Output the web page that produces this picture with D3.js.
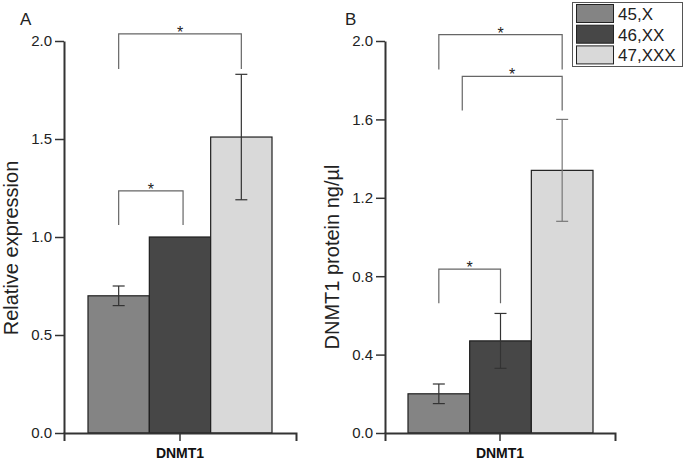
<!DOCTYPE html>
<html><head><meta charset="utf-8">
<script src="https://cdn.jsdelivr.net/npm/d3@7"></script>
<style>body{margin:0;background:#fff}svg{display:block;font-family:Arial,"Liberation Sans",sans-serif}</style>
</head><body><svg id="c" width="685" height="461"></svg>
<script>
const groups = ["45,X", "46,XX", "47,XXX"];
const colors = ["#848484", "#474747", "#d9d9d9"];
const category = "DNMT1";
const relExpr = [0.70, 1.00, 1.51];
const relErr = [0.05, 0, 0.32];
const protein = [0.20, 0.47, 1.34];
const proteinErr = [0.05, 0.14, 0.26];
const ticksA = [0.0, 0.5, 1.0, 1.5, 2.0];
const ticksB = [0.0, 0.4, 0.8, 1.2, 1.6, 2.0];
// brackets: [fromGroupPos, toGroupPos, lineLevel, legEndLevel]
const bracketsA = [[0, 2, 2.036, 1.857], [0, 1.05, 1.235, 1.061]];
const bracketsB = [[0, 2, 2.033, 1.855], [0.38, 2, 1.82, 1.646], [0, 1, 0.836, 0.662]];

const svg = d3.select("#c");
const plotTop = 41, plotBottom = 433;

function panel(o) {
  const g = svg.append("g");
  const y = d3.scaleLinear().domain([0, 2]).range([plotBottom, plotTop]);
  const xAxisScale = d3.scaleBand().domain([category]).range([o.axisL, o.axisR]);
  const xb = d3.scaleBand().domain(groups).range([o.barL, o.barR]);
  const pos = d3.scaleLinear().domain([0, 2]).range([xb(groups[0]) + xb.bandwidth()/2, xb(groups[2]) + xb.bandwidth()/2]);

  // bars
  g.selectAll("rect.bar").data(o.values).join("rect")
    .attr("x", (d, i) => xb(groups[i])).attr("width", xb.bandwidth())
    .attr("y", d => y(d)).attr("height", d => y(0) - y(d))
    .attr("fill", (d, i) => colors[i]).attr("stroke", "#1e1e1e").attr("stroke-width", 1.2);

  // error bars
  o.values.forEach((v, i) => {
    const e = o.errs[i]; if (!e) return;
    const cx = xb(groups[i]) + xb.bandwidth()/2;
    const col = i === 2 && o.lightErr ? "#777" : "#333";
    g.append("line").attr("x1", cx).attr("x2", cx).attr("y1", y(v + e)).attr("y2", y(v - e)).attr("stroke", col).attr("stroke-width", 1.2);
    [v + e, v - e].forEach(t => g.append("line").attr("x1", cx - 6).attr("x2", cx + 6).attr("y1", y(t)).attr("y2", y(t)).attr("stroke", col).attr("stroke-width", 1.2));
  });

  // brackets
  o.brackets.forEach(b => {
    const x1 = pos(b[0]), x2 = pos(b[1]);
    g.append("path").attr("d", `M${x1},${y(b[3])}V${y(b[2])}H${x2}V${y(b[3])}`)
      .attr("fill", "none").attr("stroke", "#666").attr("stroke-width", 1.2);
    g.append("text").attr("x", (x1 + x2)/2).attr("y", y(b[2]) + 4).attr("text-anchor", "middle")
      .attr("font-size", 16).attr("fill", "#222").text("*");
  });

  // axes
  const ya = g.append("g").attr("transform", `translate(${o.axisL},0)`)
    .call(d3.axisLeft(y).tickValues(o.ticks).tickFormat(d3.format(".1f")).tickSize(9).tickSizeOuter(0).tickPadding(3));
  ya.select(".domain").attr("stroke", "#333").attr("stroke-width", 2);
  ya.selectAll(".tick line").attr("stroke", "#333").attr("stroke-width", 1.5);
  ya.selectAll("text").attr("font-size", 15).attr("fill", "#222").attr("font-family", "Arial, 'Liberation Sans', sans-serif");

  const xa = g.append("g").attr("transform", `translate(0,${plotBottom})`)
    .call(d3.axisBottom(xAxisScale).tickSize(8).tickSizeOuter(8).tickPadding(5));
  xa.select(".domain").attr("stroke", "#333").attr("stroke-width", 2);
  xa.selectAll(".tick line").attr("stroke", "#333").attr("stroke-width", 1.5);
  xa.selectAll("text").attr("font-size", 14).attr("font-weight", "bold").attr("fill", "#111")
    .attr("font-family", "Arial, 'Liberation Sans', sans-serif").attr("dy", "0.85em");

  // y label
  g.append("text").attr("transform", `translate(${o.ylabX},${o.ylabY}) rotate(-90)`)
    .attr("text-anchor", "middle").attr("font-size", 20).attr("fill", "#222").text(o.ylabel);
  // panel letter
  g.append("text").attr("x", o.letterX).attr("y", 25).attr("font-size", 17).attr("fill", "#222").text(o.letter);
}

panel({values: relExpr, errs: relErr, ticks: ticksA, brackets: bracketsA, axisL: 64, axisR: 296, barL: 88, barR: 272,
  ylabel: "Relative expression", ylabX: 18, ylabY: 248, letter: "A", letterX: 20});
panel({values: protein, errs: proteinErr, ticks: ticksB, brackets: bracketsB, axisL: 385, axisR: 615, barL: 408, barR: 593,
  ylabel: "DNMT1 protein ng/\u00b5l", ylabX: 339, ylabY: 257, letter: "B", letterX: 345, lightErr: true});

// legend
const lg = svg.append("g");
lg.append("rect").attr("x", 572.5).attr("y", 2.5).attr("width", 110).attr("height", 64).attr("fill", "#fff").attr("stroke", "#555").attr("stroke-width", 1);
groups.forEach((name, i) => {
  lg.append("rect").attr("x", 576.5).attr("y", 4.5 + i * 20.7).attr("width", 37).attr("height", 18)
    .attr("fill", colors[i]).attr("stroke", "#222").attr("stroke-width", 1);
  lg.append("text").attr("x", 618).attr("y", 20 + i * 20.7).attr("font-size", 17).attr("fill", "#222").text(name);
});
</script></body></html>
